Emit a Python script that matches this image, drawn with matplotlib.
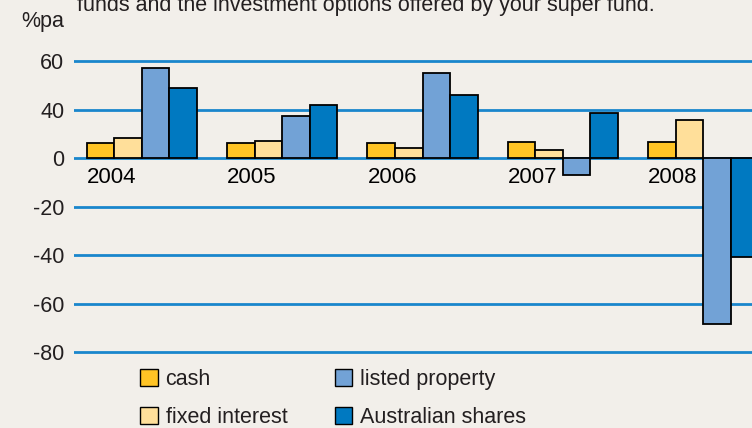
import matplotlib
matplotlib.use("Agg")
from matplotlib import pyplot as plt
from matplotlib.patches import Patch
import numpy as np

# data (%pa)
years = ["2004", "2005", "2006", "2007", "2008"]
cash = [6.2, 6.2, 6.2, 6.7, 6.8]
fixed_interest = [8.2, 7.1, 4.1, 3.5, 16.0]
listed_property = [37.4, 17.3, 35.4, -6.9, -68.5]
australian_shares = [29.2, 22.2, 26.3, 18.9, -40.5]
series_names = ["cash", "fixed interest", "listed property", "Australian shares"]

# axis tick labels as printed on the chart
tick_values = [40, 20, 0, -20, -40, -60, -80]
tick_labels = ["60", "40", "0", "-20", "-40", "-60", "-80"]

colors = ["#FFC425", "#FFDF9A", "#72A2D6", "#0079C1"]
bg = "#F2EFEA"
grid_blue = "#1A86CC"
txt = "#231F20"

plt.rcParams['font.family'] = ['Liberation Sans', 'DejaVu Sans']
font_size = 15.5

fig = plt.figure(figsize=(7.52, 4.28), dpi=100)
fig.patch.set_facecolor(bg)
ax = fig.add_axes([74 / 752, 1 - 365 / 428, 1 - 74 / 752, 325 / 428])
ax.set_facecolor(bg)

series = [cash, fixed_interest, listed_property, australian_shares]
w = 0.196
x = np.arange(len(years))
for k, vals in enumerate(series):
    ax.bar(x + (k + 0.5) * w, vals, width=w, color=colors[k], edgecolor="black",
           linewidth=1.3, zorder=3)

for v in tick_values:
    ax.axhline(v, color=grid_blue, lw=2, zorder=1)

for i, yr in enumerate(years):
    ax.annotate(yr, xy=(x[i], 0), xytext=(0, -13.5), textcoords="offset points",
                ha="left", va="center", fontsize=16, color="black")

ax.set_xlim(-0.0905, 4.739)
ax.set_ylim(-85.2, 48.8)
ax.set_yticks(tick_values)
ax.set_yticklabels(tick_labels, fontsize=font_size, color=txt)
ax.tick_params(axis="y", length=0, pad=7)
ax.set_xticks([])
for s in ax.spines.values():
    s.set_visible(False)

fig.text(64 / 752, 1 - 21 / 428, "%pa", ha="right", va="center", fontsize=font_size, color=txt)
fig.text(77 / 752, 1 - 5 / 428, "funds and the investment options offered by your super fund.",
         ha="left", va="center", fontsize=15.5, color=txt)

handles = [Patch(facecolor=colors[k], edgecolor="black", linewidth=1, label=series_names[k])
           for k in range(4)]
fig.legend(handles=handles, ncol=2, loc="upper left", bbox_to_anchor=(140 / 752, 1 - 369 / 428),
           frameon=False, fontsize=font_size, handlelength=0.82, handleheight=0.82,
           handletextpad=0.37, columnspacing=2.2, labelspacing=0.78, borderpad=0,
           borderaxespad=0, labelcolor=txt)

fig.savefig("out.png", dpi=100, facecolor=bg)
